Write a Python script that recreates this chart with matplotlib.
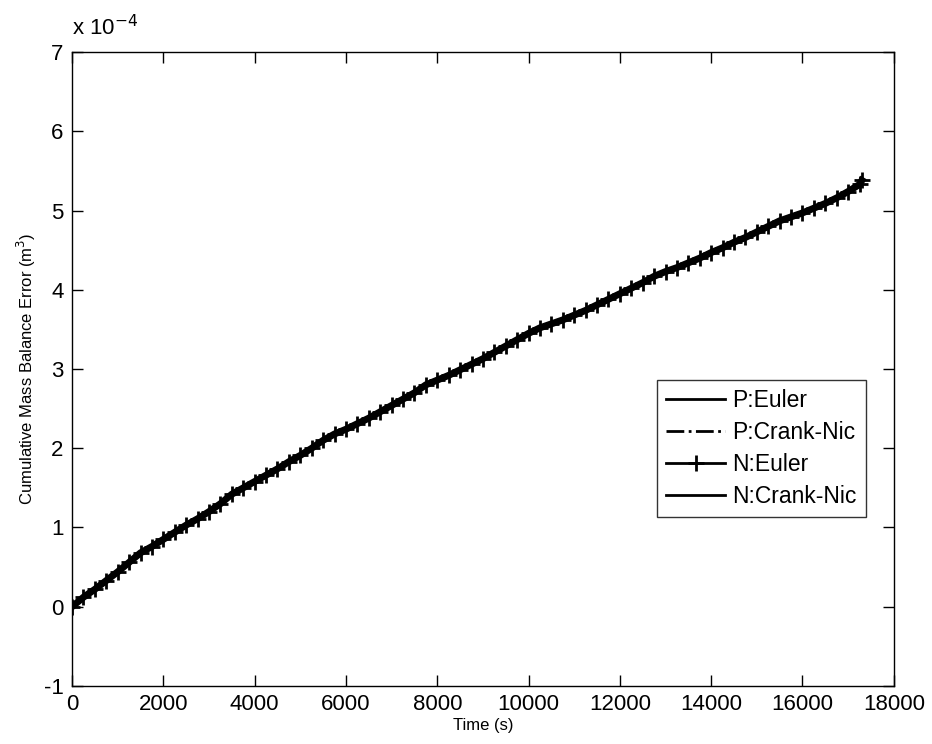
import numpy as np
import matplotlib.pyplot as plt
from matplotlib.ticker import FuncFormatter

plt.rcParams['font.family'] = ['Liberation Sans', 'DejaVu Sans']

# time (s) and cumulative mass balance error (x 1e-4 m^3)
time_s = [0, 250, 500, 750, 1000, 1250, 1500, 1750, 2000, 2250, 2500, 2750,
          3000, 3250, 3500, 3750, 4000, 4250, 4500, 4750, 5000, 5250, 5500,
          5750, 6000, 6250, 6500, 6750, 7000, 7250, 7500, 7750, 8000, 8250,
          8500, 8750, 9000, 9250, 9500, 9750, 10000, 10250, 10500, 10750,
          11000, 11250, 11500, 11750, 12000, 12250, 12500, 12750, 13000,
          13250, 13500, 13750, 14000, 14250, 14500, 14750, 15000, 15250,
          15500, 15750, 16000, 16250, 16500, 16750, 17000, 17250, 17300]
err_e4 = [0.00, 0.12, 0.22, 0.33, 0.44, 0.56, 0.68, 0.76, 0.85, 0.94, 1.03,
          1.11, 1.20, 1.30, 1.42, 1.50, 1.58, 1.66, 1.74, 1.83, 1.91, 2.00,
          2.10, 2.18, 2.24, 2.31, 2.38, 2.46, 2.54, 2.62, 2.70, 2.80, 2.86,
          2.92, 2.99, 3.06, 3.13, 3.21, 3.29, 3.37, 3.45, 3.52, 3.57, 3.62,
          3.68, 3.74, 3.81, 3.88, 3.95, 4.02, 4.09, 4.17, 4.23, 4.28, 4.34,
          4.40, 4.47, 4.53, 4.60, 4.66, 4.73, 4.80, 4.87, 4.92, 4.97, 5.03,
          5.09, 5.16, 5.24, 5.33, 5.38]

t = np.array(time_s)
err = np.array(err_e4) * 1e-4

fig = plt.figure(figsize=(9.32, 7.44), dpi=100)
ax = fig.add_axes([0.0773, 0.078, 0.8817, 0.852])

ax.plot(t, err, 'k-', lw=2, label='P:Euler')
ax.plot(t, err, 'k-.', lw=1.5, label='P:Crank-Nic')
ax.plot(t, err, 'k-', lw=5, marker='+', ms=11, mew=2, label='N:Euler')
ax.plot(t, err, 'k-', lw=2, label='N:Crank-Nic')

ax.set_xlim(0, 18000)
ax.set_ylim(-1e-4, 7e-4)
ax.set_xticks(np.arange(0, 18001, 2000))
ax.set_yticks(np.arange(-1e-4, 7.01e-4, 1e-4))
ax.yaxis.set_major_formatter(FuncFormatter(lambda v, p: f'{v / 1e-4:.0f}'))
ax.tick_params(direction='in', top=True, right=True, length=8, width=1,
               labelsize=16, pad=6)
for s in ax.spines.values():
    s.set_linewidth(1)

ax.text(0.0, 1.018, r'x 10$^{-4}$', transform=ax.transAxes, fontsize=16,
        ha='left', va='bottom')
ax.set_xlabel('Time (s)', fontsize=12, labelpad=2)
ax.set_ylabel('Cumulative Mass Balance Error (m$^3$)', fontsize=12, labelpad=4)

# legend handles use thin lines, as in the key box
leg = ax.legend(loc='lower right', bbox_to_anchor=(0.966, 0.267), fontsize=16.5,
                handlelength=2.6, handletextpad=0.3, labelspacing=0.38,
                borderpad=0.4, borderaxespad=0, frameon=True, fancybox=False,
                edgecolor='black')
leg.get_frame().set_linewidth(1)
for h in leg.get_lines():
    h.set_linewidth(2)
    h.set_markersize(11)

fig.savefig('out.png', dpi=100)
